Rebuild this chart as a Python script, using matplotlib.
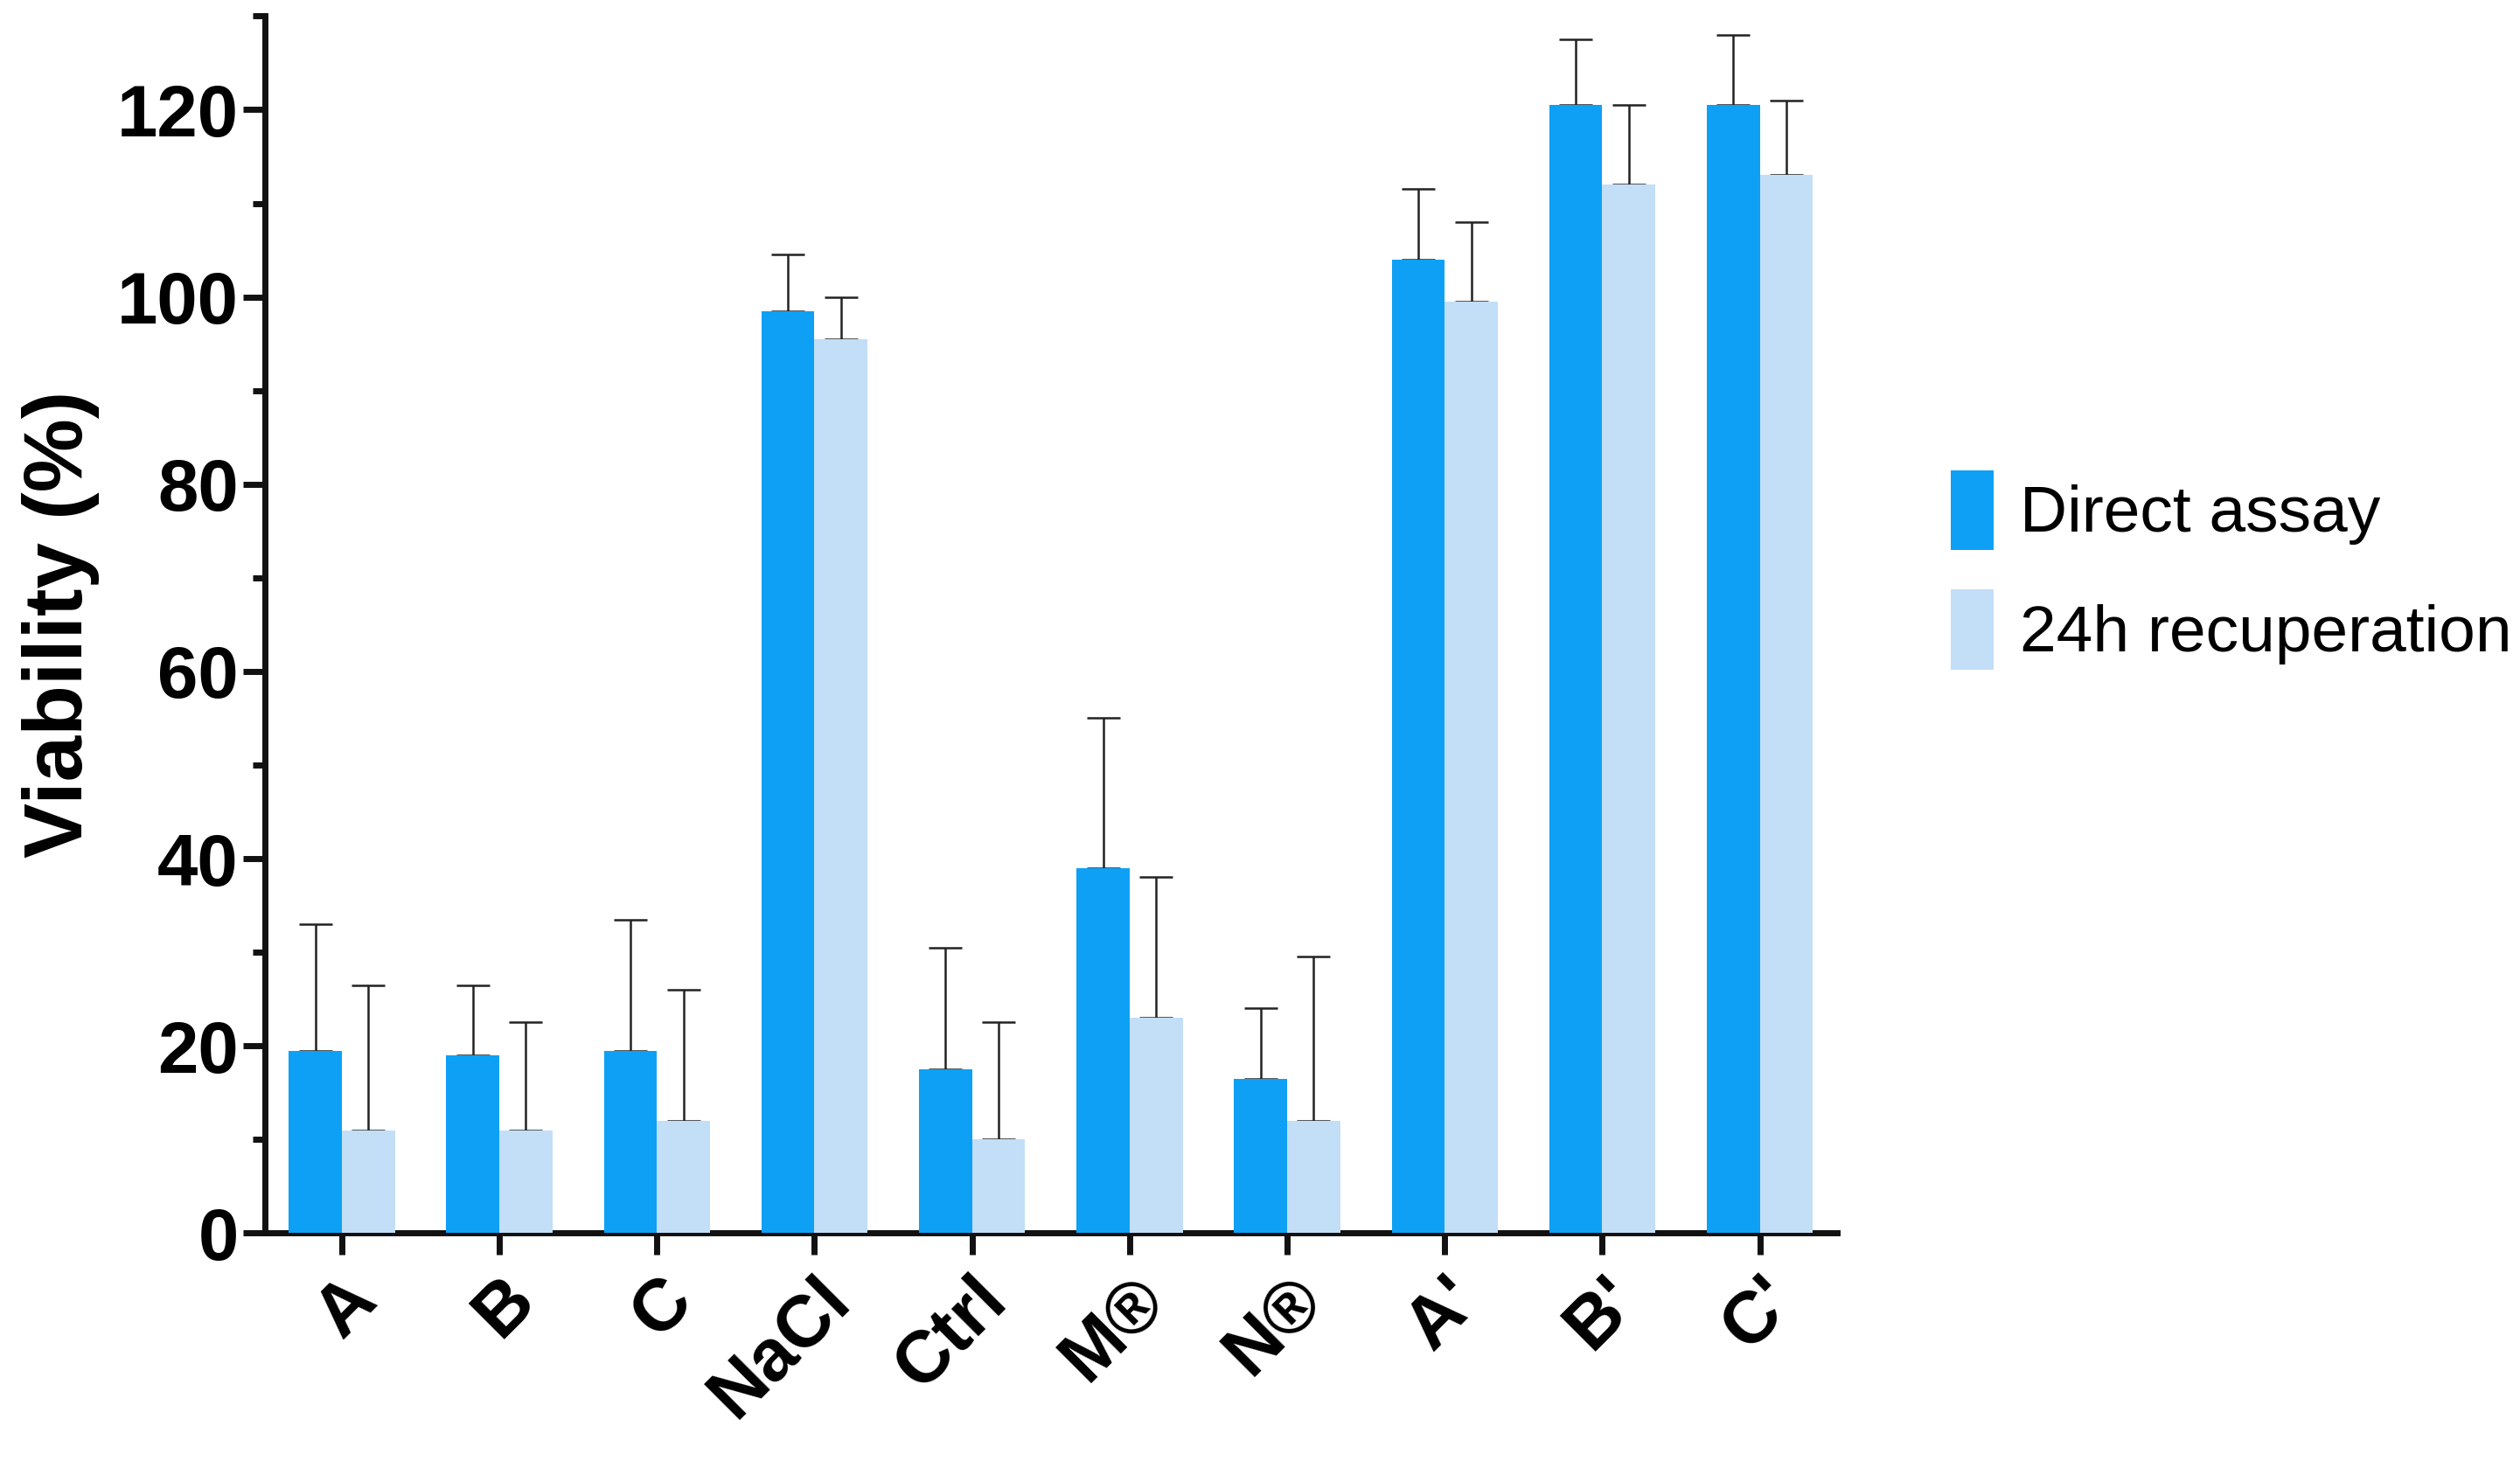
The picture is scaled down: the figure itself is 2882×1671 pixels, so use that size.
import numpy as np
import matplotlib.pyplot as plt

plt.rcParams['font.family'] = ['Liberation Sans', 'DejaVu Sans']

groups = ["A", "B", "C", "NaCl", "Ctrl", "M\u00AE", "N\u00AE", "A'", "B'", "C'"]
direct = [19.5, 19.0, 19.5, 98.5, 17.5, 39.0, 16.5, 104.0, 120.5, 120.5]
direct_top = [33.0, 26.5, 33.5, 104.5, 30.5, 55.0, 24.0, 111.5, 127.5, 128.0]
recup = [11.0, 11.0, 12.0, 95.5, 10.0, 23.0, 12.0, 99.5, 112.0, 113.0]
recup_top = [26.5, 22.5, 26.0, 100.0, 22.5, 38.0, 29.5, 108.0, 120.5, 121.0]

dark = "#0ea0f4"
light = "#c3def7"

fig = plt.figure(figsize=(28.82, 16.71), dpi=100)
ax = fig.add_axes([0.105, 0.156, 0.624, 0.833])

x = np.arange(len(groups))
w = 0.337
d = np.array(direct); r = np.array(recup)
ekw = dict(fmt="none", elinewidth=1.8, capsize=14, capthick=1.8, ecolor="#222222", zorder=2)
ax.errorbar(x - w / 2, d, yerr=[np.zeros_like(d), np.array(direct_top) - d], **ekw)
ax.errorbar(x + w / 2, r, yerr=[np.zeros_like(r), np.array(recup_top) - r], **ekw)
ax.bar(x - w / 2, d, w, color=dark, label="Direct assay", zorder=3)
ax.bar(x + w / 2, r, w, color=light, label="24h recuperation", zorder=3)

ax.set_xlim(-0.49, 9.49)
ax.set_ylim(0, 130)
ax.set_yticks(range(0, 121, 20))
ax.set_yticks(range(10, 131, 20), minor=True)
ax.set_xticks(x)
ax.set_xticklabels(groups, rotation=45, ha="right", rotation_mode="anchor",
                   fontsize=60, fontweight="bold")
for t in ax.get_yticklabels():
    t.set_fontsize(60); t.set_fontweight("bold")
ax.tick_params(axis="both", which="major", width=5, length=18, color="#111111")
ax.tick_params(axis="y", which="minor", width=5, length=10, color="#111111")
ax.tick_params(axis="x", pad=8)
for s in ["top", "right"]:
    ax.spines[s].set_visible(False)
for s in ["left", "bottom"]:
    ax.spines[s].set_linewidth(5)
    ax.spines[s].set_color("#111111")
ax.set_ylabel("Viability (%)", fontsize=68, fontweight="bold", labelpad=14)

ax.legend(loc="center left", bbox_to_anchor=(1.035, 0.545), frameon=False,
          fontsize=54, handlelength=0.65, handleheight=1.5, labelspacing=0.6,
          handletextpad=0.4)

fig.savefig("out.png", dpi=100)
